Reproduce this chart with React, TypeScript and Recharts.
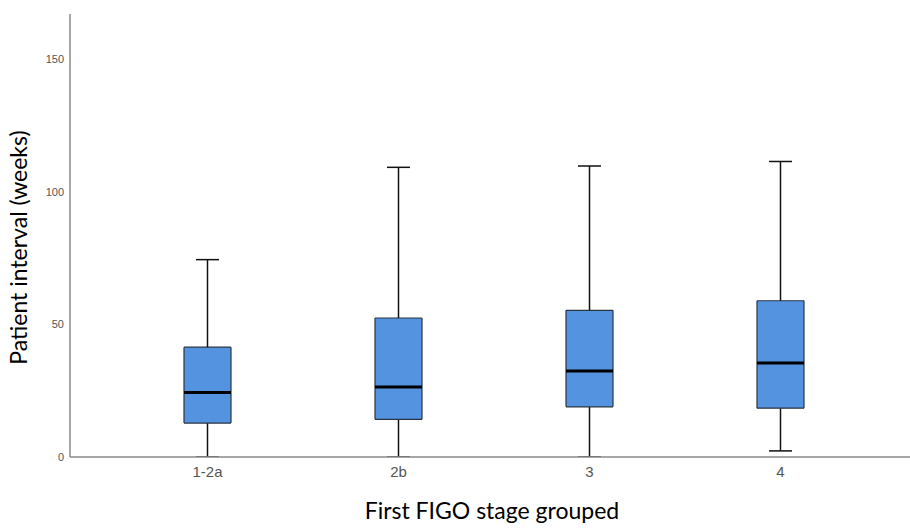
import React from 'react';
import { ComposedChart, Bar, XAxis, YAxis, Label } from 'recharts';

const stages = ['1-2a', '2b', '3', '4'];
const mins = [0, 0, 0, 2.3];
const q1s = [12.8, 14.2, 18.9, 18.4];
const medians = [24.3, 26.4, 32.4, 35.4];
const q3s = [41.4, 52.4, 55.3, 58.9];
const maxs = [74.4, 109.2, 109.7, 111.4];
const yTicks = [0, 50, 100, 150];

const BOX_FILL = '#5393e0';
const BOX_EDGE = '#2a3440';
const CAP = 23;

const data = stages.map((stage, i) => ({
  stage,
  base: mins[i],
  lowWhisker: q1s[i] - mins[i],
  lowBox: medians[i] - q1s[i],
  highBox: q3s[i] - medians[i],
  highWhisker: maxs[i] - q3s[i],
}));

const LowWhisker = (p: any) => {
  const cx = p.x + p.width / 2;
  const bottom = p.y + p.height;
  return (
    <g>
      <line x1={cx} x2={cx} y1={p.y} y2={bottom} stroke="#111" strokeWidth={1.5} />
      <line x1={cx - CAP / 2} x2={cx + CAP / 2} y1={bottom} y2={bottom} stroke="#111" strokeWidth={1.5} />
    </g>
  );
};

const HighWhisker = (p: any) => {
  const cx = p.x + p.width / 2;
  return (
    <g>
      <line x1={cx} x2={cx} y1={p.y} y2={p.y + p.height} stroke="#111" strokeWidth={1.5} />
      <line x1={cx - CAP / 2} x2={cx + CAP / 2} y1={p.y} y2={p.y} stroke="#111" strokeWidth={1.5} />
    </g>
  );
};

const LowBox = (p: any) => {
  const { x, y, width, height } = p;
  const b = y + height;
  return (
    <g>
      <rect x={x} y={y} width={width} height={height} fill={BOX_FILL} />
      <line x1={x} x2={x} y1={y} y2={b} stroke={BOX_EDGE} strokeWidth={1.2} />
      <line x1={x + width} x2={x + width} y1={y} y2={b} stroke={BOX_EDGE} strokeWidth={1.2} />
      <line x1={x} x2={x + width} y1={b} y2={b} stroke={BOX_EDGE} strokeWidth={1.2} />
    </g>
  );
};

const HighBox = (p: any) => {
  const { x, y, width, height } = p;
  const b = y + height;
  return (
    <g>
      <rect x={x} y={y} width={width} height={height} fill={BOX_FILL} />
      <line x1={x} x2={x} y1={y} y2={b} stroke={BOX_EDGE} strokeWidth={1.2} />
      <line x1={x + width} x2={x + width} y1={y} y2={b} stroke={BOX_EDGE} strokeWidth={1.2} />
      <line x1={x} x2={x + width} y1={y} y2={y} stroke={BOX_EDGE} strokeWidth={1.2} />
      <line x1={x} x2={x + width} y1={b} y2={b} stroke="#000" strokeWidth={3} />
    </g>
  );
};

const YTitle = (props: any) => {
  const vb = props.viewBox;
  const cy = vb.y + vb.height / 2 + 12;
  return (
    <text x={21} y={cy} transform={`rotate(-90, 21, ${cy})`} textAnchor="middle" dominantBaseline="middle"
      fontFamily="Lato, 'Open Sans', sans-serif" fontSize={23} fill="#000">
      Patient interval (weeks)
    </text>
  );
};

const XTitle = (props: any) => {
  const vb = props.viewBox;
  const cx = vb.x + vb.width / 2 + 2;
  return (
    <text x={cx} y={513} textAnchor="middle" dominantBaseline="middle"
      fontFamily="Lato, 'Open Sans', sans-serif" fontSize={23} fill="#000">
      First FIGO stage grouped
    </text>
  );
};

export default function App() {
  return (
    <div style={{ position: 'absolute', left: 0, top: 0, background: '#fff' }}>
      <ComposedChart width={910} height={528} data={data} barCategoryGap={0}
        margin={{ top: 14, right: 0, bottom: 0, left: 0 }}>
        <XAxis dataKey="stage" height={71} padding={{ left: 42, right: 34 }}
          axisLine={{ stroke: '#8a8a8a', strokeWidth: 1.5 }} tickLine={false} tickMargin={3}
          tick={{ fontSize: 15, fill: '#555', fontFamily: "'Liberation Sans', Arial, sans-serif" }}>
          <Label content={<XTitle />} />
        </XAxis>
        <YAxis width={70} domain={[0, 167]} ticks={yTicks} allowDataOverflow
          axisLine={{ stroke: '#8a8a8a', strokeWidth: 1.5 }} tickLine={false} tickMargin={0}
          tick={{ fontSize: 11, fill: '#555', fontFamily: "'Liberation Sans', Arial, sans-serif" }}>
          <Label content={<YTitle />} />
        </YAxis>
        <Bar dataKey="base" stackId="box" barSize={47} fill="transparent" isAnimationActive={false} />
        <Bar dataKey="lowWhisker" stackId="box" barSize={47} shape={LowWhisker} isAnimationActive={false} />
        <Bar dataKey="lowBox" stackId="box" barSize={47} shape={LowBox} isAnimationActive={false} />
        <Bar dataKey="highBox" stackId="box" barSize={47} shape={HighBox} isAnimationActive={false} />
        <Bar dataKey="highWhisker" stackId="box" barSize={47} shape={HighWhisker} isAnimationActive={false} />
      </ComposedChart>
    </div>
  );
}
